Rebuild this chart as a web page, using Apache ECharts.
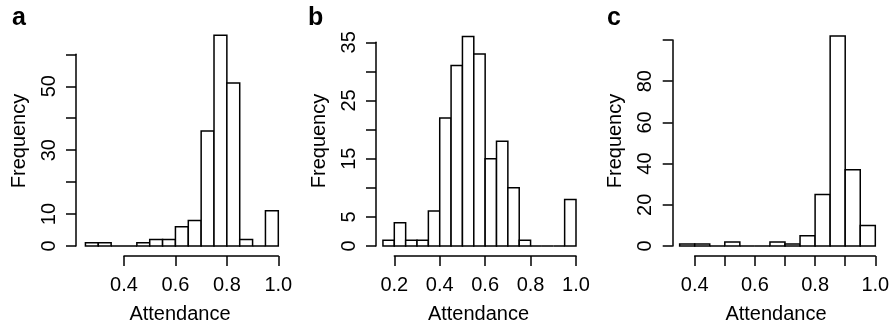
<!DOCTYPE html>
<html>
<head>
<meta charset="utf-8">
<script src="https://cdn.jsdelivr.net/npm/echarts@6/dist/echarts.min.js"></script>
<style>
  html, body {margin: 0; padding: 0; background: #fff;}
  #chart {width: 892px; height: 324px;}
</style>
</head>
<body>
<div id="chart"></div>
<script>
// histogram data: bin edges + counts per panel
const aBreaks = [0.25, 0.30, 0.35, 0.40, 0.45, 0.50, 0.55, 0.60, 0.65, 0.70, 0.75, 0.80, 0.85, 0.90, 0.95, 1.00];
const aCounts = [1, 1, 0, 0, 1, 2, 2, 6, 8, 36, 66, 51, 2, 0, 11];
const bBreaks = [0.15, 0.20, 0.25, 0.30, 0.35, 0.40, 0.45, 0.50, 0.55, 0.60, 0.65, 0.70, 0.75, 0.80, 0.85, 0.90, 0.95, 1.00];
const bCounts = [1, 4, 1, 1, 6, 22, 31, 36, 33, 15, 18, 10, 1, 0, 0, 0, 8];
const cBreaks = [0.35, 0.40, 0.45, 0.50, 0.55, 0.60, 0.65, 0.70, 0.75, 0.80, 0.85, 0.90, 0.95, 1.00];
const cCounts = [1, 1, 0, 2, 0, 0, 2, 1, 5, 25, 102, 37, 10];

// tick labels that R actually printed (the rest were dropped for overlap)
const aYLabels = ['0', '10', '30', '50'];
const bYLabels = ['0', '5', '15', '25', '35'];
const cYLabels = ['0', '20', '40', '60', '80'];
const aXLabels = ['0.4', '0.6', '0.8', '1.0'];
const bXLabels = ['0.2', '0.4', '0.6', '0.8', '1.0'];
const cXLabels = ['0.4', '0.6', '0.8', '1.0'];

const FONT = 'Liberation Sans, Arial, Helvetica, sans-serif';
const LW = 1.5;

// layout in px: y axis line x, baseline, top tick, x tick ends, x axis line
const panels = [
  {letter: 'a', breaks: aBreaks, counts: aCounts, yMax: 60, yStep: 10, yLabels: aYLabels,
   xMin: 0.4, xMax: 1.0, xStep: 0.2, xLabels: aXLabels,
   axX: 76, y0: 246, yTopPx: 54.3, xt0Px: 124, xt1Px: 278.3, axY: 256,
   letterX: 12, titleX: 180},
  {letter: 'b', breaks: bBreaks, counts: bCounts, yMax: 35, yStep: 5, yLabels: bYLabels,
   xMin: 0.2, xMax: 1.0, xStep: 0.2, xLabels: bXLabels,
   axX: 376, y0: 246, yTopPx: 42.3, xt0Px: 394.3, xt1Px: 576, axY: 256,
   letterX: 308, titleX: 478.5},
  {letter: 'c', breaks: cBreaks, counts: cCounts, yMax: 100, yStep: 20, yLabels: cYLabels,
   xMin: 0.4, xMax: 1.0, xStep: 0.1, xLabels: cXLabels,
   axX: 672.7, y0: 246, yTopPx: 40, xt0Px: 694.7, xt1Px: 875.3, axY: 256,
   letterX: 607, titleX: 776}
];

const grid = [], xAxis = [], yAxis = [], series = [], graphic = [];

panels.forEach((p, i) => {
  const ppx = (p.xt1Px - p.xt0Px) / (p.xMax - p.xMin);
  const barLeft = p.axX;
  const barRight = p.xt1Px + 12;
  const gBars = i * 2, gX = i * 2 + 1;

  grid.push({
    left: barLeft, top: p.yTopPx, width: barRight - barLeft, height: p.y0 - p.yTopPx,
    outerBoundsMode: 'none', containLabel: false
  });
  grid.push({
    left: p.xt0Px, top: p.axY - 10, width: p.xt1Px - p.xt0Px, height: 10,
    outerBoundsMode: 'none', containLabel: false
  });

  xAxis.push({
    gridIndex: gBars, type: 'value', show: false,
    min: p.xMin - (p.xt0Px - barLeft) / ppx,
    max: p.xMax + (barRight - p.xt1Px) / ppx
  });
  xAxis.push({
    gridIndex: gX, type: 'value', min: p.xMin, max: p.xMax, interval: p.xStep,
    axisLine: {show: true, lineStyle: {color: '#000', width: LW}},
    axisTick: {show: true, length: 10, lineStyle: {color: '#000', width: LW}},
    splitLine: {show: false},
    axisLabel: {
      margin: 19, color: '#000', fontFamily: FONT, fontSize: 20,
      formatter(v) {
        const s = v.toFixed(1);
        return p.xLabels.includes(s) ? s : '';
      }
    }
  });

  yAxis.push({
    gridIndex: gBars, type: 'value', min: 0, max: p.yMax, interval: p.yStep,
    axisLine: {show: true, lineStyle: {color: '#000', width: LW}},
    axisTick: {show: true, length: 10, lineStyle: {color: '#000', width: LW}},
    splitLine: {show: false},
    axisLabel: {
      rotate: 90, margin: 17, color: '#000', fontFamily: FONT, fontSize: 20,
      formatter(v) {
        const s = String(Math.round(v));
        return p.yLabels.includes(s) ? s : '';
      }
    }
  });
  yAxis.push({gridIndex: gX, type: 'value', show: false, min: 0, max: 1});

  series.push({
    type: 'custom',
    xAxisIndex: gBars,
    yAxisIndex: gBars,
    clip: false,
    silent: true,
    encode: {x: [0, 1], y: 2},
    data: p.counts.map((c, k) => [p.breaks[k], p.breaks[k + 1], c]),
    renderItem(params, api) {
      const tl = api.coord([api.value(0), api.value(2)]);
      const br = api.coord([api.value(1), 0]);
      return {
        type: 'rect',
        shape: {x: tl[0], y: tl[1], width: br[0] - tl[0], height: br[1] - tl[1]},
        style: {fill: '#fff', stroke: '#000', lineWidth: LW}
      };
    }
  });

  graphic.push({
    type: 'text', left: p.letterX, top: 6,
    style: {text: p.letter, fill: '#000', font: 'bold 25px ' + FONT}
  });
  graphic.push({
    type: 'text', x: p.axX - 57, y: 141, rotation: Math.PI / 2,
    style: {text: 'Frequency', fill: '#000', font: '20px ' + FONT, align: 'center', verticalAlign: 'middle'}
  });
  graphic.push({
    type: 'text', x: p.titleX, y: 314,
    style: {text: 'Attendance', fill: '#000', font: '20px ' + FONT, align: 'center', verticalAlign: 'middle'}
  });
});

const chart = echarts.init(document.getElementById('chart'), null, {renderer: 'canvas'});
chart.setOption({
  animation: false,
  backgroundColor: '#fff',
  grid, xAxis, yAxis, series, graphic
});
</script>
</body>
</html>
